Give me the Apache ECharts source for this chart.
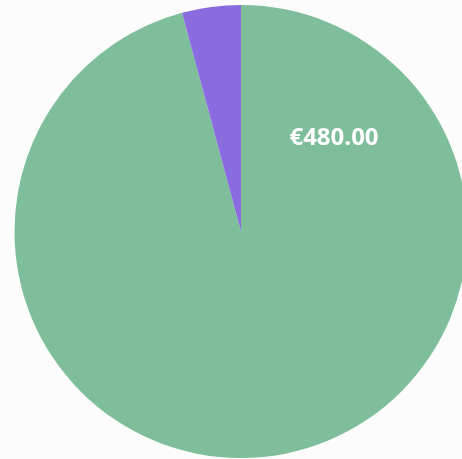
<!DOCTYPE html>
<html>
<head>
<meta charset="utf-8">
<script src="https://cdn.jsdelivr.net/npm/echarts@6/dist/echarts.min.js"></script>
<style>
  html, body { margin: 0; padding: 0; background: #fcfcfc; }
  #chart { width: 462px; height: 459px; }
</style>
</head>
<body>
<div id="chart"></div>
<script>
var names = ['A', 'B'];
var values = [480, 21];
var colors = ['#7ebe9b', '#8a6be0'];

var myChart = echarts.init(document.getElementById('chart'));

var pieData = names.map(function (n, i) {
    return { name: n, value: values[i], itemStyle: { color: colors[i] } };
});

var option = {
    backgroundColor: '#fcfcfc',
    animation: false,
    series: [{
        type: 'pie',
        center: [241, 231.5],
        radius: [0, 226.5],
        startAngle: 90,
        clockwise: true,
        label: { show: false },
        labelLine: { show: false },
        emphasis: { disabled: true },
        data: pieData
    }],
    graphic: [{
        type: 'text',
        z: 100,
        x: 334,
        y: 138,
        style: {
            text: '€' + values[0].toFixed(2),
            fill: '#ffffff',
            font: 'bold 24px "Open Sans"',
            align: 'center',
            verticalAlign: 'middle'
        }
    }]
};

myChart.setOption(option);
</script>
</body>
</html>
